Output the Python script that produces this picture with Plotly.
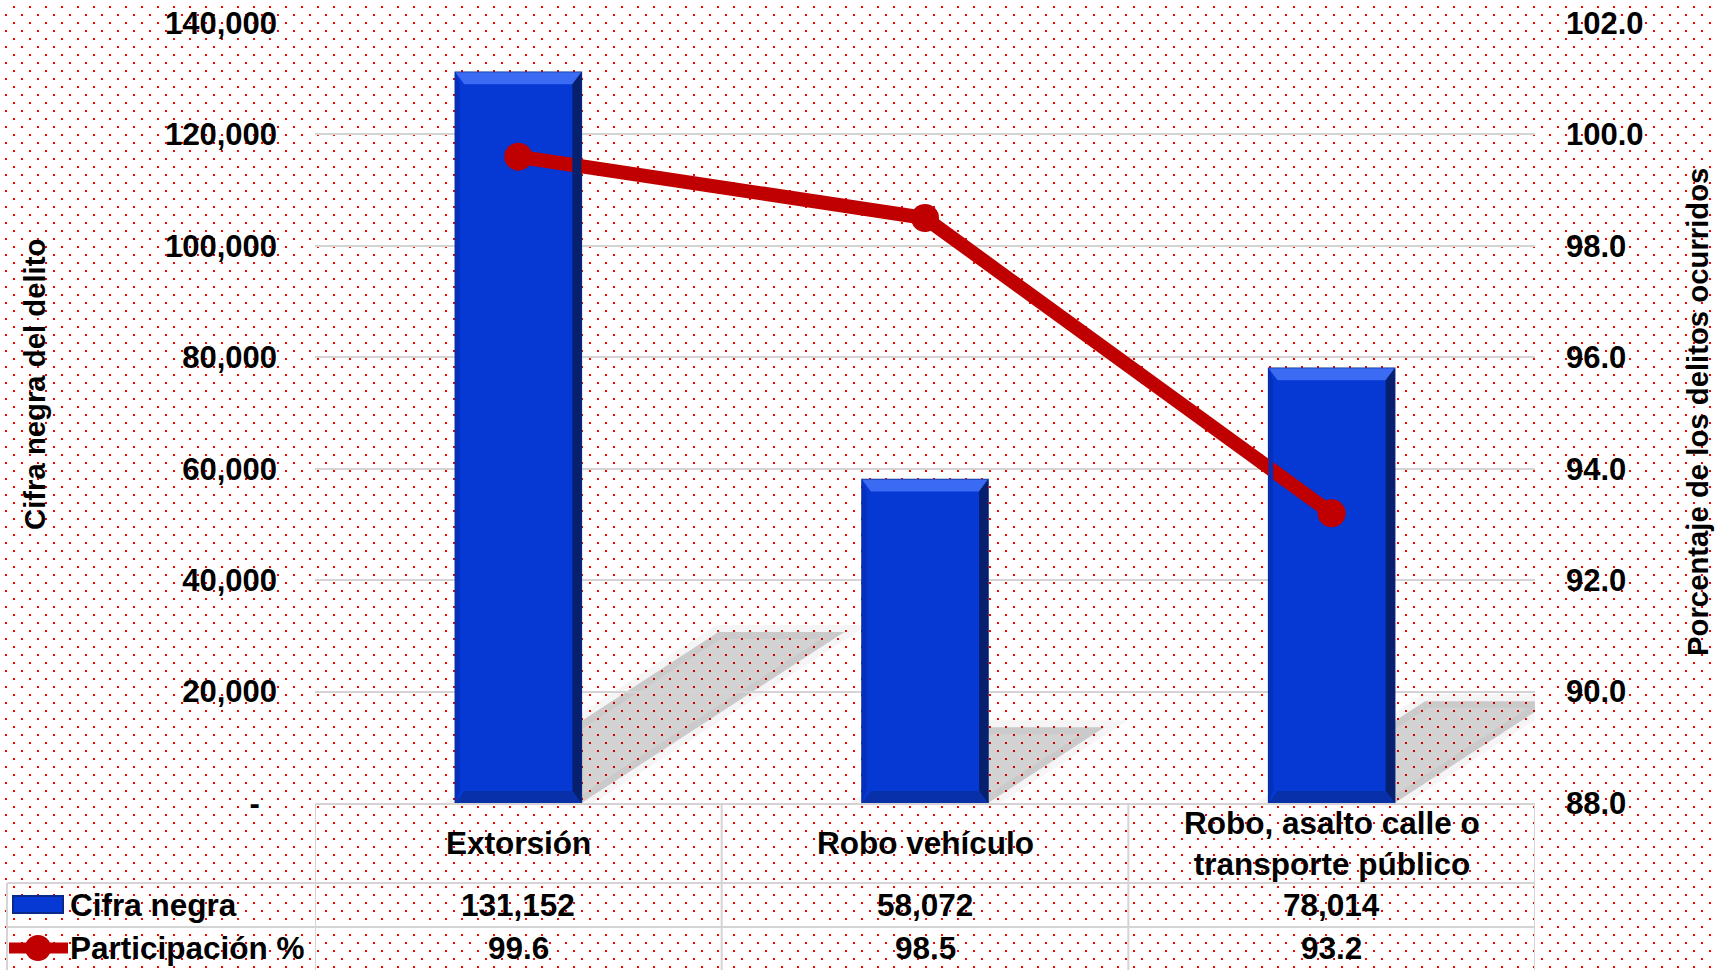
import base64
import plotly.graph_objects as go

categories = ["Extorsión", "Robo vehículo", "Robo, asalto calle o<br>transporte público"]
cifra_negra = [131152, 58072, 78014]
participacion = [99.6, 98.5, 93.2]
cifra_labels = ["131,152", "58,072", "78,014"]
part_labels = ["99.6", "98.5", "93.2"]

left_ticks = [0, 20000, 40000, 60000, 80000, 100000, 120000, 140000]
left_ticktext = ["-\u00a0\u00a0", "20,000", "40,000", "60,000", "80,000", "100,000", "120,000", "140,000"]

W, H = 1717, 970
L, R, T, B = 315, 182, 23, 167
PW, PH = W - L - R, H - T - B
YMAX = 140000

BLUE = "#0638D4"
BLUE_EDGE = "#0A2A8A"
RED = "#C00000"
GRID = "#D4D4D4"
FONT = "Arial, Liberation Sans, sans-serif"


def px(x):
    return (x - L) / PW


def py(y):
    return (H - B - y) / PH


# dotted background
svg = (
    f'<svg xmlns="http://www.w3.org/2000/svg" width="{W}" height="{H}">'
    '<defs><pattern id="p" width="16" height="16" patternUnits="userSpaceOnUse">'
    '<rect x="13" y="6" width="2" height="2" fill="#FF0000"/>'
    '<rect x="5" y="14" width="2" height="2" fill="#FF0000"/>'
    '</pattern></defs>'
    f'<rect width="{W}" height="{H}" fill="url(#p)"/></svg>'
)
bg = "data:image/svg+xml;base64," + base64.b64encode(svg.encode()).decode()

bar_w = 0.31

fig = go.Figure()
fig.add_trace(go.Bar(x=categories, y=cifra_negra, width=bar_w, name="Cifra negra",
                     marker=dict(color=BLUE, line=dict(color=BLUE_EDGE, width=1.5))))
fig.add_trace(go.Scatter(x=categories, y=participacion, yaxis="y2", mode="lines+markers",
                         name="Participación %",
                         line=dict(color=RED, width=14),
                         marker=dict(color=RED, size=28)))

shapes = []
# bar shadows, sheared from each bar
k_y = 0.234
k_x = 0.36 * PH / YMAX / (PW / 3)
for i, v in enumerate(cifra_negra):
    s = v * k_x
    top = v * k_y
    path = (f"M {i - bar_w / 2} 0 L {i + bar_w / 2} 0 "
            f"L {i + bar_w / 2 + s} {top} L {i - bar_w / 2 + s} {top} Z")
    shapes.append(dict(type="path", xref="x", yref="y", path=path, layer="below",
                       fillcolor="rgba(0,0,0,0.06)", line=dict(color="rgba(0,0,0,0.04)", width=14)))
    shapes.append(dict(type="path", xref="x", yref="y", path=path, layer="below",
                       fillcolor="rgba(0,0,0,0.12)", line=dict(width=0)))

# bevel edges on the bars
d = 9 / (PW / 3)          # horizontal bevel, category units
e = 12 * YMAX / PH        # vertical bevel, value units
for i, v in enumerate(cifra_negra):
    x0, x1 = i - bar_w / 2, i + bar_w / 2
    bevels = [
        (f"M {x0} {v} L {x1} {v} L {x1 - d} {v - e} L {x0 + d} {v - e} Z", "#3A6BF2"),
        (f"M {x1} {v} L {x1} 0 L {x1 - d} {e} L {x1 - d} {v - e} Z", "#06206E"),
        (f"M {x0} 0 L {x1} 0 L {x1 - d} {e} L {x0 + d} {e} Z", "#0830A8"),
        (f"M {x0} 0 L {x0} {v} L {x0 + d * 0.5} {v - e} L {x0 + d * 0.5} {e} Z", "#0430BC"),
    ]
    for p, col in bevels:
        shapes.append(dict(type="path", xref="x", yref="y", path=p, layer="above",
                           fillcolor=col, line=dict(width=0)))

# data table grid
line_style = dict(color=GRID, width=2)
for xb in [-0.5, 0.5, 1.5, 2.5]:
    shapes.append(dict(type="line", xref="x", yref="paper", x0=xb, x1=xb, y0=0, y1=py(H), line=line_style))
for yy in [883, 927]:
    shapes.append(dict(type="line", xref="paper", yref="paper", x0=px(7), x1=1, y0=py(yy), y1=py(yy), line=line_style))
shapes.append(dict(type="line", xref="paper", yref="paper", x0=px(7), x1=px(7), y0=py(883), y1=py(H), line=line_style))

# legend keys inside the table
shapes.append(dict(type="rect", xref="paper", yref="paper", x0=px(13), x1=px(63), y0=py(913), y1=py(896),
                   fillcolor=BLUE, line=dict(color=BLUE_EDGE, width=2)))
shapes.append(dict(type="line", xref="paper", yref="paper", x0=px(9), x1=px(68), y0=py(948), y1=py(948),
                   line=dict(color=RED, width=11)))
shapes.append(dict(type="circle", xref="paper", yref="paper", x0=px(25), x1=px(51), y0=py(961), y1=py(935),
                   fillcolor=RED, line=dict(color=RED, width=0)))

bold = dict(family=FONT, size=31.5, color="black", weight="bold")
title_font = dict(family=FONT, size=29.3, color="black", weight="bold")
ann = []
for i, c in enumerate(categories):
    for yy, txt in [(843, c), (905, cifra_labels[i]), (948, part_labels[i])]:
        ann.append(dict(x=i, y=py(yy), xref="x", yref="paper", text=txt, showarrow=False,
                        xanchor="center", yanchor="middle", font=bold))
ann.append(dict(x=px(68), y=py(905), xref="paper", yref="paper", text="Cifra negra", showarrow=False,
                xanchor="left", yanchor="middle", font=bold))
ann.append(dict(x=px(68), y=py(948), xref="paper", yref="paper", text="Participación %", showarrow=False,
                xanchor="left", yanchor="middle", font=bold))
ann.append(dict(x=px(34), y=py(385), xref="paper", yref="paper", text="Cifra negra del delito", showarrow=False,
                xanchor="center", yanchor="middle", textangle=-90, font=title_font))
ann.append(dict(x=px(1697), y=py(412), xref="paper", yref="paper", text="Porcentaje de los delitos ocurridos",
                showarrow=False, xanchor="center", yanchor="middle", textangle=-90, font=title_font))

fig.update_layout(
    width=W, height=H,
    margin=dict(l=L, r=R, t=T, b=B, autoexpand=False),
    paper_bgcolor="white",
    plot_bgcolor="rgba(0,0,0,0)",
    showlegend=False,
    font=dict(family=FONT, color="black"),
    xaxis=dict(type="category", range=[-0.5, 2.5], showticklabels=False, showgrid=False,
               showline=True, linecolor=GRID, linewidth=2, zeroline=False, fixedrange=True),
    yaxis=dict(range=[0, YMAX], tickvals=left_ticks, ticktext=left_ticktext,
               tickfont=dict(family=FONT, size=31, color="black", weight="bold"),
               showgrid=True, gridcolor=GRID, gridwidth=2, zeroline=False, showline=False,
               ticks="", ticklabelstandoff=37),
    yaxis2=dict(range=[88, 102], dtick=2, tick0=88, tickformat=".1f", overlaying="y", side="right",
                tickfont=dict(family=FONT, size=31, color="black", weight="bold"),
                showgrid=False, zeroline=False, showline=False, ticks="", ticklabelstandoff=30),
    images=[dict(source=bg, xref="paper", yref="paper", x=px(0), y=py(0), sizex=W / PW, sizey=H / PH,
                 xanchor="left", yanchor="top", sizing="stretch", layer="below")],
    shapes=shapes,
    annotations=ann,
)

fig.write_html("out.html", config={"displayModeBar": False},
               post_script="document.body.style.margin='0';")
